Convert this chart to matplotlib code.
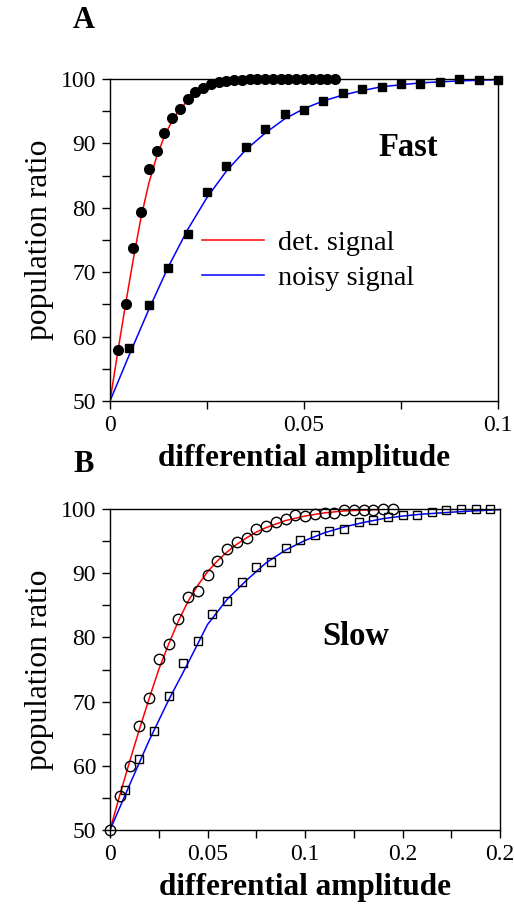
import matplotlib
matplotlib.use("Agg")
import matplotlib.pyplot as plt
from matplotlib.ticker import MultipleLocator, FixedLocator, FixedFormatter

plt.rcParams["font.family"] = ["Liberation Serif", "DejaVu Serif"]

# ---- panel A (fast) ----
a_det_x = [0.002, 0.004, 0.006, 0.008, 0.010, 0.012, 0.014, 0.016, 0.018, 0.020,
           0.022, 0.024, 0.026, 0.028, 0.030, 0.032, 0.034, 0.036, 0.038, 0.040,
           0.042, 0.044, 0.046, 0.048, 0.050, 0.052, 0.054, 0.056, 0.058]
a_det_y = [57.9, 65.1, 73.7, 79.4, 86.0, 88.8, 91.6, 94.0, 95.3, 96.9,
           98.0, 98.6, 99.2, 99.5, 99.7, 99.8, 99.9, 100.0, 100.0, 100.0,
           100.0, 100.0, 100.0, 100.0, 100.0, 100.0, 100.0, 100.0, 100.0]
a_noisy_x = [0.005, 0.010, 0.015, 0.020, 0.025, 0.030, 0.035, 0.040, 0.045, 0.050,
             0.055, 0.060, 0.065, 0.070, 0.075, 0.080, 0.085, 0.090, 0.095, 0.100]
a_noisy_y = [58.2, 64.9, 70.6, 76.0, 82.4, 86.5, 89.4, 92.2, 94.6, 95.2,
             96.6, 97.9, 98.4, 98.8, 99.2, 99.2, 99.5, 100.0, 99.8, 99.8]

# fitted curves
a_det_fit_x = [0, 0.002, 0.004, 0.006, 0.008, 0.010, 0.012, 0.014, 0.016, 0.018,
               0.020, 0.022, 0.024, 0.027, 0.030, 0.034, 0.040, 0.050, 0.100]
a_det_fit_y = [50, 57.6, 65.0, 72.0, 78.5, 83.8, 87.9, 91.1, 93.5, 95.3,
               96.6, 97.6, 98.4, 99.1, 99.5, 99.8, 100, 100, 100]
a_noisy_fit_x = [0, 0.005, 0.010, 0.015, 0.020, 0.025, 0.030, 0.035, 0.040, 0.045,
                 0.050, 0.055, 0.060, 0.065, 0.070, 0.080, 0.090, 0.100]
a_noisy_fit_y = [50, 57.2, 64.2, 70.8, 76.6, 81.6, 85.7, 89.0, 91.6, 93.8,
                 95.4, 96.6, 97.5, 98.2, 98.8, 99.4, 99.7, 99.9]

# ---- panel B (slow) ----
b_det_x = [0, 0.005, 0.010, 0.015, 0.020, 0.025, 0.030, 0.035, 0.040, 0.045,
           0.050, 0.055, 0.060, 0.065, 0.070, 0.075, 0.080, 0.085, 0.090, 0.095,
           0.100, 0.105, 0.110, 0.115, 0.120, 0.125, 0.130, 0.135, 0.140, 0.145]
b_det_y = [50.0, 55.3, 59.9, 66.2, 70.5, 76.6, 78.9, 82.8, 86.3, 87.2,
           89.7, 91.9, 93.8, 94.9, 95.5, 96.9, 97.4, 98.0, 98.4, 99.1,
           98.9, 99.2, 99.4, 99.3, 99.8, 99.8, 99.8, 99.8, 100.0, 100.0]
b_noisy_x = [0.0075, 0.015, 0.0225, 0.030, 0.0375, 0.045, 0.0525, 0.060, 0.0675,
             0.075, 0.0825, 0.090, 0.0975, 0.105, 0.1125, 0.120, 0.1275, 0.135,
             0.1425, 0.150, 0.1575, 0.165, 0.1725, 0.180, 0.1875, 0.195]
b_noisy_y = [56.2, 61.1, 65.4, 70.9, 76.0, 79.5, 83.6, 85.6, 88.6,
             91.0, 91.7, 93.9, 95.2, 95.9, 96.5, 96.9, 97.9, 98.3,
             98.7, 99.0, 99.1, 99.6, 99.8, 100.0, 100.0, 100.0]

b_det_fit_x = [0, 0.005, 0.010, 0.015, 0.020, 0.025, 0.030, 0.035, 0.040, 0.045,
               0.050, 0.055, 0.060, 0.065, 0.070, 0.075, 0.080, 0.090, 0.100,
               0.110, 0.120, 0.140, 0.160, 0.200]
b_det_fit_y = [50, 55.4, 60.6, 65.6, 70.4, 75.0, 78.9, 82.5, 85.6, 88.1,
               90.2, 91.9, 93.3, 94.5, 95.5, 96.4, 97.1, 98.2, 98.9,
               99.4, 99.7, 99.95, 100, 100]
b_noisy_fit_x = [0, 0.010, 0.020, 0.030, 0.040, 0.050, 0.060, 0.070, 0.080, 0.090,
                 0.100, 0.110, 0.120, 0.130, 0.140, 0.150, 0.160, 0.180, 0.200]
b_noisy_fit_y = [50, 57.0, 63.9, 70.2, 76.0, 82.0, 85.9, 88.9, 91.6, 93.6,
                 95.1, 96.3, 97.2, 97.9, 98.5, 98.9, 99.2, 99.6, 99.9]

b_xticks = [0, 0.05, 0.1, 0.15, 0.2]
b_xticklabels = ["0", "0.05", "0.1", "0.2", "0.2"]

fig = plt.figure(figsize=(5.14, 9.08), dpi=100)
axA = fig.add_axes([110 / 514, 1 - 401 / 908, 388 / 514, 322 / 908])
axB = fig.add_axes([110 / 514, 1 - 830 / 908, 390 / 514, 321 / 908])

TICK_FS = 17
YLABEL_FS = 22.7
XLABEL_FS = 22.5


def style(ax):
    for s in ax.spines.values():
        s.set_linewidth(1.0)
    ax.tick_params(which="both", direction="out", length=6, width=1,
                   top=False, right=False, labelsize=TICK_FS, pad=4)
    ax.set_ylim(50, 100)
    ax.yaxis.set_major_locator(MultipleLocator(10))
    ax.yaxis.set_minor_locator(MultipleLocator(5))
    ax.set_ylabel("population ratio", fontsize=YLABEL_FS, labelpad=5)
    ax.set_xlabel("differential amplitude", fontsize=XLABEL_FS,
                  fontweight="bold", labelpad=6)


# panel A
axA.plot(a_det_fit_x, a_det_fit_y, color="red", lw=1.1, label="det. signal", zorder=2)
axA.plot(a_noisy_fit_x, a_noisy_fit_y, color="blue", lw=1.1, label="noisy signal", zorder=2)
axA.plot(a_det_x, a_det_y, "o", color="black", ms=7, clip_on=False, zorder=3)
axA.plot(a_noisy_x, a_noisy_y, "s", color="black", ms=6, clip_on=False, zorder=3)
axA.set_xlim(0, 0.1)
axA.xaxis.set_major_locator(FixedLocator([0, 0.05, 0.1]))
axA.xaxis.set_major_formatter(FixedFormatter(["0", "0.05", "0.1"]))
axA.xaxis.set_minor_locator(MultipleLocator(0.025))
style(axA)
axA.text(0.0768, 89.4, "Fast", fontsize=23.5, fontweight="bold",
         ha="center", va="center")
axA.legend(loc="upper left", bbox_to_anchor=(0.237, 0.53), frameon=False,
           fontsize=20.4, handlelength=2.2, handletextpad=0.5,
           labelspacing=0.3, borderpad=0, borderaxespad=0)

# panel B
axB.plot(b_det_fit_x, b_det_fit_y, color="red", lw=1.1, zorder=2)
axB.plot(b_noisy_fit_x, b_noisy_fit_y, color="blue", lw=1.1, zorder=2)
axB.plot(b_det_x, b_det_y, "o", mfc="none", mec="black", mew=1.0, ms=7.5,
         clip_on=False, zorder=3)
axB.plot(b_noisy_x, b_noisy_y, "s", mfc="none", mec="black", mew=1.0, ms=6,
         clip_on=False, zorder=3)
axB.set_xlim(0, 0.2)
axB.xaxis.set_major_locator(FixedLocator(b_xticks))
axB.xaxis.set_major_formatter(FixedFormatter(b_xticklabels))
axB.xaxis.set_minor_locator(MultipleLocator(0.025))
style(axB)
axB.text(0.126, 80.1, "Slow", fontsize=23.5, fontweight="bold",
         ha="center", va="center")

fig.text(84 / 514, 1 - 20 / 908, "A", fontsize=22, fontweight="bold",
         ha="center", va="center")
fig.text(84 / 514, 1 - 464 / 908, "B", fontsize=22, fontweight="bold",
         ha="center", va="center")

fig.savefig("out.png", dpi=100)
